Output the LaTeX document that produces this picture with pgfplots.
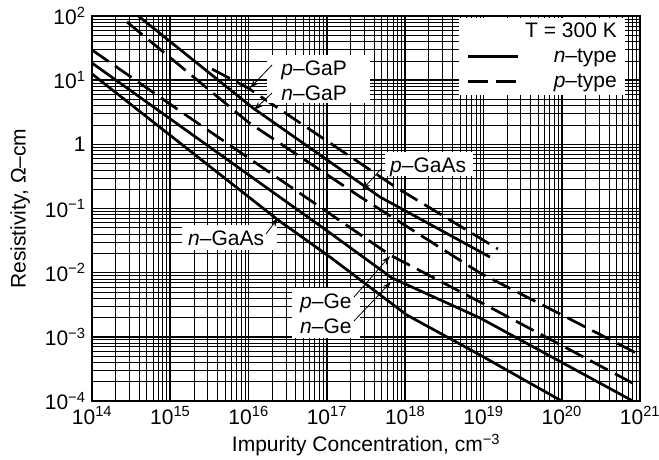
\documentclass[border=0pt]{standalone}
\usepackage{fontspec}
\setmainfont{Liberation Sans}
\usepackage{pgfplots}
\pgfplotsset{compat=1.18}
\usetikzlibrary{arrows.meta}
\newcommand{\tp}[1]{10\textsuperscript{#1}}
\newcommand{\fs}{\fontsize{21}{25}\selectfont}
\begin{document}
\begin{tikzpicture}
\begin{axis}[
  scale only axis, width=548pt, height=385pt,
  xmode=log, ymode=log,
  xmin=1e14, xmax=1e21, ymin=1e-4, ymax=1e2,
  xtick={1e14,1e15,1e16,1e17,1e18,1e19,1e20,1e21},
  xticklabels={\tp{14},\tp{15},\tp{16},\tp{17},\tp{18},\tp{19},\tp{20},\tp{21}},
  ytick={1e-4,1e-3,1e-2,1e-1,1,1e1,1e2},
  yticklabels={\tp{−4},\tp{−3},\tp{−2},\tp{−1},1,\tp{1},\tp{2}},
  minor xtick={2e14,3e14,4e14,5e14,6e14,7e14,8e14,9e14,
    2e15,3e15,4e15,5e15,6e15,7e15,8e15,9e15,
    2e16,3e16,4e16,5e16,6e16,7e16,8e16,9e16,
    2e17,3e17,4e17,5e17,6e17,7e17,8e17,9e17,
    2e18,3e18,4e18,5e18,6e18,7e18,8e18,9e18,
    2e19,3e19,4e19,5e19,6e19,7e19,8e19,9e19,
    2e20,3e20,4e20,5e20,6e20,7e20,8e20,9e20},
  minor ytick={2e-4,3e-4,4e-4,5e-4,6e-4,7e-4,8e-4,9e-4,
    2e-3,3e-3,4e-3,5e-3,6e-3,7e-3,8e-3,9e-3,
    2e-2,3e-2,4e-2,5e-2,6e-2,7e-2,8e-2,9e-2,
    0.2,0.3,0.4,0.5,0.6,0.7,0.8,0.9,
    2,3,4,5,6,7,8,9,
    20,30,40,50,60,70,80,90},
  grid=both,
  major grid style={black, line width=1.6pt},
  minor grid style={black, line width=0.7pt},
  major tick length=0pt, minor tick length=0pt,
  axis line style={line width=2pt},
  tick label style={font=\fs},
  xticklabel style={yshift=-2pt},
  yticklabel style={xshift=-3pt},
  xlabel={Impurity Concentration, cm\textsuperscript{−3}},
  ylabel={Resistivity, Ω–cm},
  xlabel style={font=\fs, at={(axis description cs:0.5,-0.114)}, anchor=center},
  ylabel style={font=\fs, at={(axis description cs:-0.131,0.5)}, anchor=center},
  nline/.style={black, line width=2.7pt, solid},
  pline/.style={black, line width=2.7pt, dash pattern=on 20pt off 8pt},
  legend style={at={(1,1)}, anchor=north east, xshift=-15pt, yshift=-2pt,
    draw=none, fill=white, font=\fs, inner xsep=7pt, inner ysep=3pt,
    row sep=4pt,
    nodes={inner sep=1pt, text height=15pt, text depth=4pt},
    /tikz/every odd column/.append style={column sep=5pt}},
  legend cell align=right,
  legend image code/.code={\draw[#1] (0pt,0pt) -- (50pt,0pt);},
]
% n-GaAs
\addplot[nline, forget plot] coordinates {(1e14,12.5) (2.38e16,0.0662) (1.10e17,0.0175) (1.05e18,2.19e-3) (9.04e18,5.21e-4) (1.0e20,1.0e-4)};
% n-Ge
\addplot[nline, forget plot] coordinates {(1e14,18.5) (1.10e17,0.0415) (6.79e17,8.26e-3) (9.04e18,1.97e-3) (8.1e20,1e-4)};
% p-Ge
\addplot[pline, forget plot] coordinates {(1e14,29.5) (1.33e15,3.31) (6.40e17,0.01888) (9.04e18,3.49e-3) (1e21,1.65e-4)};
% p-GaAs
\addplot[pline, forget plot] coordinates {(2.80e14,80.7) (9.84e15,2.23) (2.81e17,0.146) (9.04e18,9.89e-3) (1e21,5.21e-4)};
% n-GaP
\addplot[nline, forget plot] coordinates {(3.9e14,100) (1.14e16,3.68) (4.78e17,0.151) (1.21e19,0.01754)};
% p-GaP
\addplot[pline, forget plot] coordinates {(3.41e15,14.9) (9.84e15,7.55) (7.87e17,0.209) (1.53e19,0.0234)};
\addlegendimage{empty legend}
\addlegendentry{T = 300 K}
\addlegendimage{nline}
\addlegendentry{\textit{n}–type}
\addlegendimage{pline}
\addlegendentry{\textit{p}–type}
\coordinate (sw) at (rel axis cs:0,0);
\end{axis}
\begin{scope}[shift={([xshift=-92pt,yshift=401pt]sw)}, x=1pt, y=-1pt, font=\fs]
  \fill[white] (267,55) rectangle (370,103);
  \node[anchor=base east, inner sep=0pt] at (347,75) {\textit{p}–GaP};
  \node[anchor=base east, inner sep=0pt] at (347,100) {\textit{n}–GaP};
  \fill[white] (385,152) rectangle (473,176);
  \node[anchor=base west, inner sep=0pt] at (390,172) {\textit{p}–GaAs};
  \fill[white] (182,225) rectangle (277,250);
  \node[anchor=base west, inner sep=0pt] at (188,245) {\textit{n}–GaAs};
  \fill[white] (292,288) rectangle (360,338);
  \node[anchor=base west, inner sep=0pt] at (300,308) {\textit{p}–Ge};
  \node[anchor=base west, inner sep=0pt] at (300,333) {\textit{n}–Ge};
  \begin{scope}[line width=0.8pt, -{Stealth[length=9pt,width=6pt]}]
    \draw (272,65) -- (250,88);
    \draw (272,93) -- (254,110);
    \draw (382,168) -- (362,190);
    \draw (266,234) -- (278,218);
    \draw (354,297) -- (390,256);
    \draw (354,321) -- (391,282);
  \end{scope}
\end{scope}
\pgfresetboundingbox
\path ([xshift=-92pt,yshift=-58pt]sw) rectangle ([xshift=567pt,yshift=401pt]sw);
\end{tikzpicture}
\end{document}
